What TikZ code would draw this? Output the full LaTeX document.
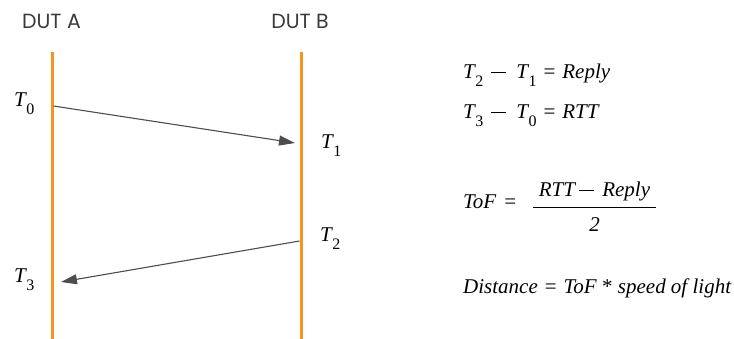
\documentclass[tikz,border=0pt]{standalone}
\usepackage{fontspec}
\setmainfont{Liberation Serif}
\newfontfamily\dutfont{Poppins}
\usetikzlibrary{arrows.meta}
\definecolor{lifeline}{HTML}{F7941D}
\definecolor{msg}{HTML}{4D4D4D}
\definecolor{dut}{HTML}{3A3A3A}
\newcommand\Tsb[1]{{\itshape T}\kern0.5pt\raisebox{-0.36em}{\fontsize{16}{16}\selectfont #1}}
\newcommand\mns{\raisebox{0.3em}{\rule{15pt}{0.9pt}}}
\begin{document}
\begin{tikzpicture}[x=1pt,y=-1pt,
  lifelinestyle/.style={draw=lifeline,line width=3pt},
  msgarrow/.style={draw=msg,line width=1.1pt,-{Triangle[length=16pt,width=10pt]}},
  dutlabel/.style={font=\dutfont\fontsize{20.5}{20.5}\selectfont,text=dut,anchor=base,inner sep=0pt},
  tlabel/.style={font=\fontsize{21}{21}\selectfont,anchor=base west,inner sep=0pt},
  eqtext/.style={font=\fontsize{21}{21}\selectfont,anchor=base west,inner sep=0pt}]
\useasboundingbox (0,0) rectangle (734,339);
% headers
\node[dutlabel] (dutA) at (51.5,29) {DUT A};
\node[dutlabel] (dutB) at (300,29) {DUT B};
% lifelines
\coordinate (aTop) at (52,52);
\coordinate (aBot) at (52,339);
\coordinate (bTop) at (301,52);
\coordinate (bBot) at (301,339);
\draw[lifelinestyle] (aTop) -- (aBot);
\draw[lifelinestyle] (bTop) -- (bBot);
% message endpoints
\coordinate (t0) at (53.5,106);
\coordinate (t1) at (295,143);
\coordinate (t2) at (299.5,241);
\coordinate (t3) at (61,282);
\draw[msgarrow] (t0) -- (t1);
\draw[msgarrow] (t2) -- (t3);
% time labels
\node[tlabel] (lT0) at (14,107) {\Tsb{0}};
\node[tlabel] (lT1) at (321,149) {\Tsb{1}};
\node[tlabel] (lT2) at (320,242) {\Tsb{2}};
\node[tlabel] (lT3) at (14,283) {\Tsb{3}};
% equations
\node[eqtext] (eq1) at (463,79) {\Tsb{2}\hspace{8pt}\mns\hspace{10pt}\Tsb{1}\hspace{7pt}=\hspace{7pt}\textit{Reply}};
\node[eqtext] (eq2) at (463,119) {\Tsb{3}\hspace{8pt}\mns\hspace{10pt}\Tsb{0}\hspace{7pt}=\hspace{7pt}\textit{RTT}};
\node[eqtext] (tof) at (463,209) {\textit{ToF}\hspace{8pt}=};
\node[eqtext,anchor=base] (num) at (594.5,197) {\textit{RTT}\hspace{3pt}\mns\hspace{8pt}\textit{Reply}};
\coordinate (barL) at (533,207);
\coordinate (barR) at (656,207);
\draw[line width=0.8pt,black] (barL) -- (barR);
\node[eqtext,anchor=base] (den) at (594.5,232) {\textit{2}};
\node[eqtext] (dist) at (463,294) {\textit{Distance}\hspace{7pt}=\hspace{7pt}\textit{ToF} * \textit{speed of light}};
\end{tikzpicture}
\end{document}
